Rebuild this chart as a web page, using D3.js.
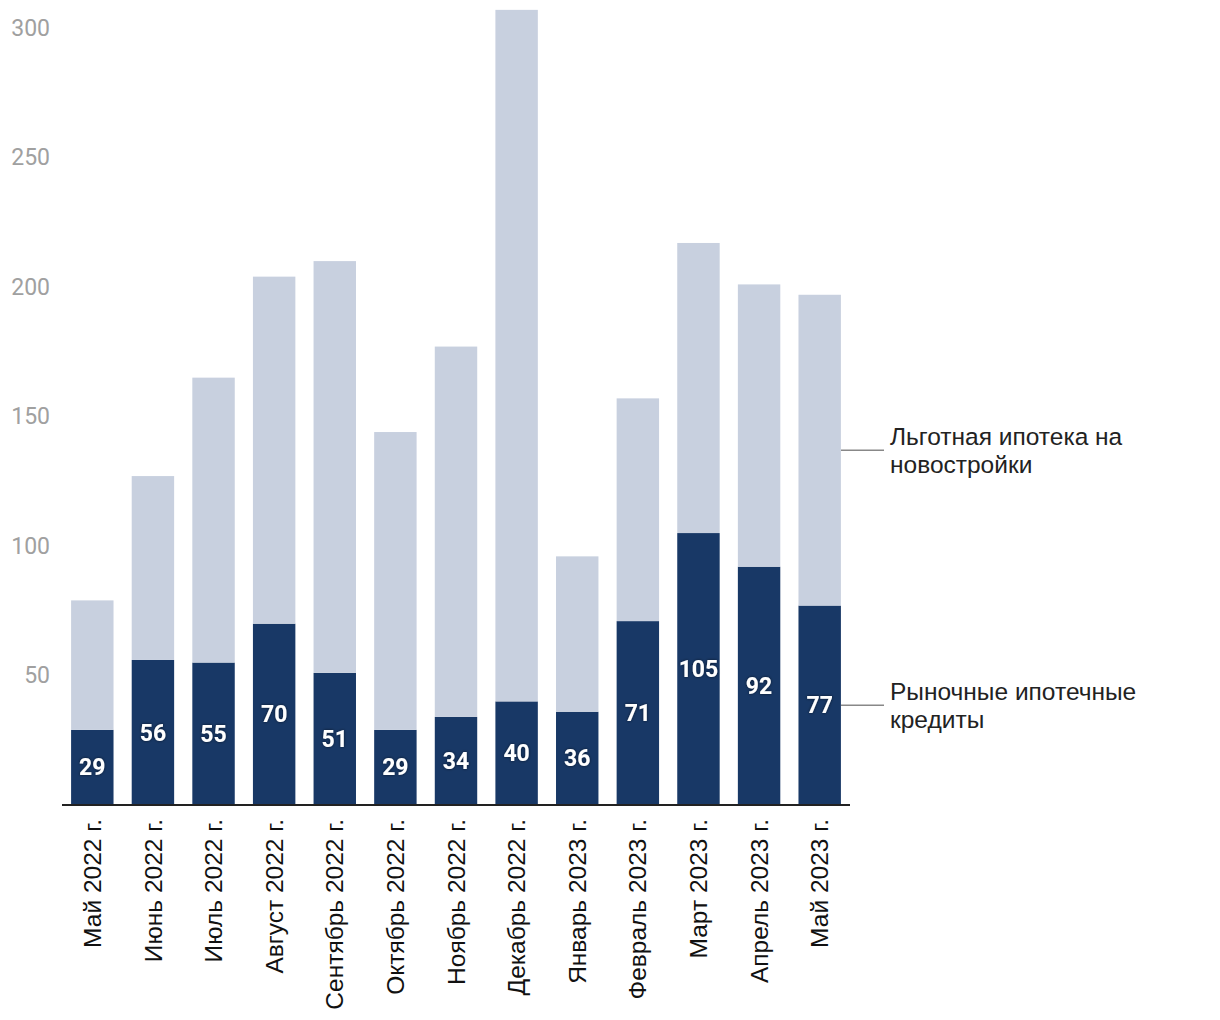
<!DOCTYPE html>
<html><head><meta charset="utf-8">
<script src="https://cdn.jsdelivr.net/npm/d3@7"></script>
<style>body{margin:0;background:#fff}</style>
</head><body>
<svg id="c" width="1220" height="1020"></svg>
<script>
const categories = ["Май 2022 г.","Июнь 2022 г.","Июль 2022 г.","Август 2022 г.","Сентябрь 2022 г.","Октябрь 2022 г.","Ноябрь 2022 г.","Декабрь 2022 г.","Январь 2023 г.","Февраль 2023 г.","Март 2023 г.","Апрель 2023 г.","Май 2023 г."];
const market = [29,56,55,70,51,29,34,40,36,71,105,92,77];
const preferential = [50,71,110,134,159,115,143,267,60,86,112,109,120];
const yTicks = [50,100,150,200,250,300];
const seriesNames = ["Рыночные ипотечные кредиты","Льготная ипотека на новостройки"];
const colors = ["#183866","#c8d0df"];

const svg = d3.select("#c");
const x = d3.scaleBand().domain(categories).range([62,850]).paddingInner(0.3).paddingOuter(0.15);
const y = d3.scaleLinear().domain([0,300]).range([805,28]);

const defs = svg.append("defs");
const f = defs.append("filter").attr("id","sh").attr("x","-30%").attr("y","-30%").attr("width","160%").attr("height","160%");
f.append("feDropShadow").attr("dx",0).attr("dy",0).attr("stdDeviation",1.5).attr("flood-color","#000").attr("flood-opacity",0.6);

const rows = categories.map((c,i)=>({cat:c, market:market[i], preferential:preferential[i]}));
const stack = d3.stack().keys(["market","preferential"])(rows);

svg.append("g").selectAll("g").data(stack).join("g").attr("fill",(d,i)=>colors[i])
  .selectAll("rect").data(d=>d).join("rect")
  .attr("x",d=>x(d.data.cat)).attr("width",x.bandwidth())
  .attr("y",d=>y(d[1])).attr("height",d=>y(d[0])-y(d[1]));

// y axis labels
const ya = svg.append("g").attr("transform","translate(50,0)")
  .call(d3.axisLeft(y).tickValues(yTicks).tickSize(0).tickPadding(0));
ya.select(".domain").remove();
ya.selectAll("text").attr("font-family","Roboto").attr("font-size",23).attr("fill","#a0a0a0");

// x axis
const xa = svg.append("g").attr("transform","translate(0,805)")
  .call(d3.axisBottom(x).tickSize(0).tickPadding(0));
xa.select(".domain").attr("stroke","#222").attr("stroke-width",2).attr("d","M62,0H850");
xa.selectAll("text").attr("font-family","Liberation Sans, Arial").attr("font-size",24.5).attr("fill","#111")
  .attr("transform","rotate(-90)").attr("text-anchor","end").attr("dy","0.35em").attr("x",-14).attr("y",0);

// value labels
svg.append("g").selectAll("text").data(stack[0]).join("text")
  .attr("x",d=>x(d.data.cat)+x.bandwidth()/2).attr("y",d=>(y(d[0])+y(d[1]))/2)
  .attr("dy","0.35em").attr("text-anchor","middle")
  .attr("font-family","Roboto").attr("font-weight","bold").attr("font-size",23).attr("fill","#fff")
  .attr("filter","url(#sh)").text(d=>d.data.market);

// legend
const last = categories.length-1;
const legendY = [ (y(stack[1][last][0])+y(stack[1][last][1]))/2, (y(stack[0][last][0])+y(stack[0][last][1]))/2 ];
const legendLines = [["Льготная ипотека на","новостройки"],["Рыночные ипотечные","кредиты"]];
const lg = svg.append("g");
legendY.forEach((ly,i)=>{
  lg.append("line").attr("x1",841).attr("x2",884).attr("y1",ly).attr("y2",ly).attr("stroke","#888").attr("stroke-width",1.5);
  legendLines[i].forEach((l,j)=>lg.append("text").attr("x",890).attr("y",ly-5+j*28)
    .attr("font-family","Liberation Sans, Arial").attr("font-size",24.5).attr("fill","#222").text(l));
});
</script>
</body></html>
